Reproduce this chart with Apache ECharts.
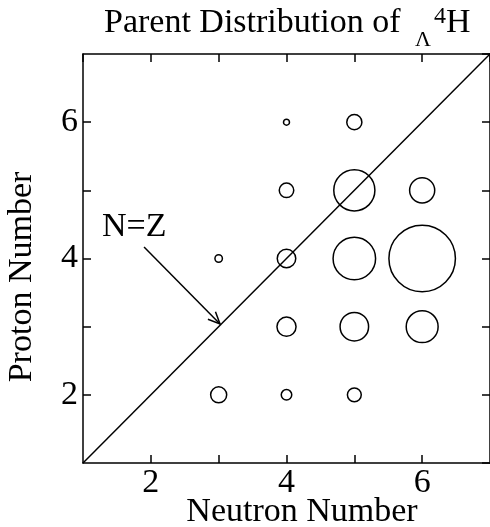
<!DOCTYPE html>
<html>
<head>
<meta charset="utf-8">
<script src="https://cdn.jsdelivr.net/npm/echarts@6/dist/echarts.min.js"></script>
<style>
html,body{margin:0;padding:0;background:#fff;}
#chart{width:490px;height:527px;}
</style>
</head>
<body>
<div id="chart"></div>
<script>
// Data
const neutron = [3, 4, 5, 4, 5, 6, 3, 4, 5, 6, 4, 5, 6, 4, 5];
const proton  = [2, 2, 2, 3, 3, 3, 4, 4, 4, 4, 5, 5, 5, 6, 6];
const weight  = [77, 36, 59, 106, 225, 279, 20, 100, 484, 1156, 64, 454, 177, 14, 69];
const diagN = [1, 7];
const diagZ = [1, 7];
const arrowFrom = [1.9, 4.17];
const arrowTo = [3.02, 3.04];
const xTickLabels = [2, 4, 6];
const yTickLabels = [2, 4, 6];

const FONT = 'Liberation Serif';
const chart = echarts.init(document.getElementById('chart'), null, {renderer: 'canvas'});

const pts = neutron.map((n, i) => [n, proton[i], weight[i]]);
const diag = diagN.map((n, i) => [n, diagZ[i]]);

const axisCommon = {
  type: 'value', min: 1, max: 7, interval: 1,
  axisLine: {show: true, onZero: false, lineStyle: {color: '#000', width: 1.5}},
  axisTick: {show: true, inside: true, length: 8, lineStyle: {color: '#000', width: 1.5}},
  splitLine: {show: false}
};

chart.setOption({
  backgroundColor: '#fff',
  animation: false,
  grid: {left: 83, top: 54, width: 407, height: 409, containLabel: false},
  xAxis: [
    Object.assign({}, axisCommon, {
      position: 'bottom',
      axisLabel: {show: true, margin: 3, color: '#000', fontFamily: FONT, fontSize: 34,
        showMinLabel: false, showMaxLabel: false,
        formatter: v => xTickLabels.includes(v) ? String(v) : ''}
    }),
    Object.assign({}, axisCommon, {position: 'top', axisLabel: {show: false}})
  ],
  yAxis: [
    Object.assign({}, axisCommon, {
      position: 'left',
      axisLabel: {show: true, margin: 5, color: '#000', fontFamily: FONT, fontSize: 34,
        showMinLabel: false, showMaxLabel: false,
        formatter: v => yTickLabels.includes(v) ? String(v) : ''}
    }),
    Object.assign({}, axisCommon, {position: 'right', axisLabel: {show: false}})
  ],
  series: [
    {
      type: 'line', data: diag, symbol: 'none', silent: true,
      lineStyle: {color: '#000', width: 1.5}, clip: true
    },
    {
      type: 'scatter', data: pts, symbol: 'circle',
      symbolSize: d => Math.max(2, 2 * Math.sqrt(d[2]) - 1.5),
      itemStyle: {color: 'rgba(0,0,0,0)', borderColor: '#000', borderWidth: 1.5, opacity: 1}
    },
    {
      type: 'custom',
      data: [[arrowFrom[0], arrowFrom[1], arrowTo[0], arrowTo[1]]],
      encode: {x: [0, 2], y: [1, 3]},
      renderItem: function (params, api) {
        const p0 = api.coord([api.value(0), api.value(1)]);
        const p1 = api.coord([api.value(2), api.value(3)]);
        const ang = Math.atan2(p1[1] - p0[1], p1[0] - p0[0]);
        const L = 13, spread = 0.42;
        const w1 = [p1[0] - L * Math.cos(ang - spread), p1[1] - L * Math.sin(ang - spread)];
        const w2 = [p1[0] - L * Math.cos(ang + spread), p1[1] - L * Math.sin(ang + spread)];
        const st = {stroke: '#000', lineWidth: 1.5, fill: null};
        return {
          type: 'group',
          children: [
            {type: 'line', shape: {x1: p0[0], y1: p0[1], x2: p1[0], y2: p1[1]}, style: st},
            {type: 'polyline', shape: {points: [w1, p1, w2]}, style: st}
          ]
        };
      }
    }
  ],
  graphic: [
    {type: 'text', x: 104, y: 23, style: {text: 'Parent Distribution of', font: '34px "Liberation Serif"', fill: '#000', align: 'left', verticalAlign: 'middle'}},
    {type: 'text', x: 423, y: 40, style: {text: 'Λ', font: '22px "Liberation Serif"', fill: '#000', align: 'center', verticalAlign: 'middle'}},
    {type: 'text', x: 434, y: 17, style: {text: '4', font: '24px "Liberation Serif"', fill: '#000', align: 'left', verticalAlign: 'middle'}},
    {type: 'text', x: 446, y: 23, style: {text: 'H', font: '34px "Liberation Serif"', fill: '#000', align: 'left', verticalAlign: 'middle'}},
    {type: 'text', x: 102, y: 227, style: {text: 'N=Z', font: '34px "Liberation Serif"', fill: '#000', align: 'left', verticalAlign: 'middle'}},
    {type: 'text', x: 302, y: 512, style: {text: 'Neutron Number', font: '34px "Liberation Serif"', fill: '#000', align: 'center', verticalAlign: 'middle'}},
    {type: 'text', x: 22, y: 277, rotation: Math.PI / 2, style: {text: 'Proton Number', font: '34px "Liberation Serif"', fill: '#000', align: 'center', verticalAlign: 'middle'}}
  ]
});
</script>
</body>
</html>
